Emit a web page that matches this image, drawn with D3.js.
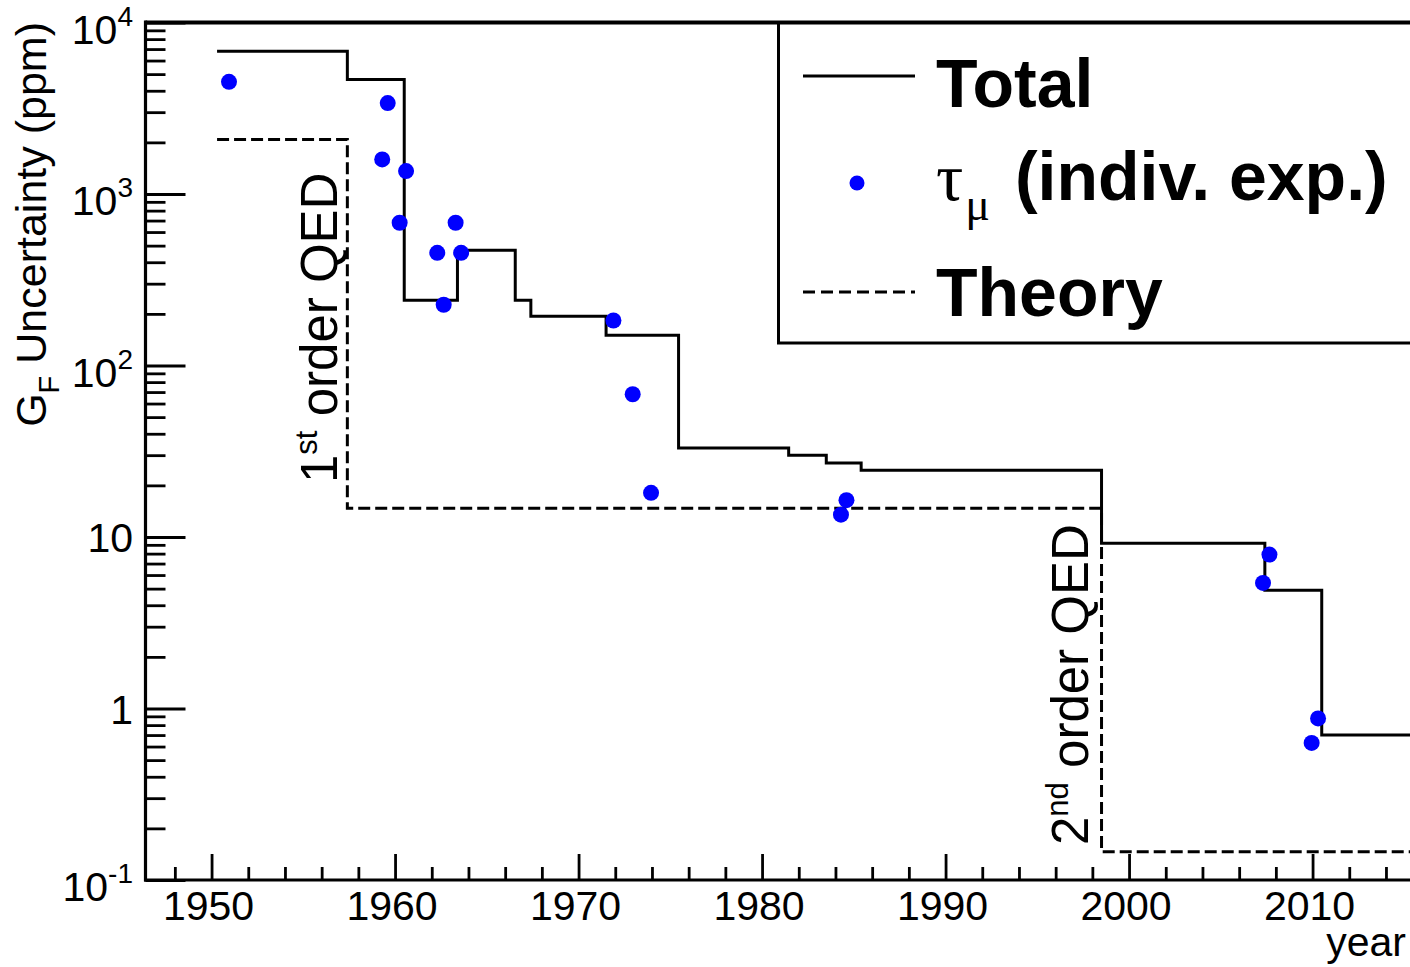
<!DOCTYPE html>
<html>
<head>
<meta charset="utf-8">
<script src="https://cdn.jsdelivr.net/npm/d3@7"></script>
<style>
  html, body { margin: 0; padding: 0; background: #fff; }
  svg { display: block; }
  text { font-family: "Liberation Sans", Arial, Helvetica, sans-serif; fill: #000; }
</style>
</head>
<body>
<svg id="chart" width="1410" height="967"></svg>
<script>
// ---------------- data ----------------
// "Total" step curve: bin edges (years) and uncertainty (ppm) in each bin
const totalEdges  = [1950.3, 1957.4, 1960.5, 1963.4, 1966.55, 1967.4, 1971.5, 1975.45, 1981.45, 1983.5, 1985.4, 1998.5, 2007.4, 2010.5, 2020];
const totalValues = [6800,   4650,   240,    470,    240,     194,    150,    33,      30,      27,     24.5,   9.2,    4.9,    0.70];

// "Theory" step curve
const theoryEdges  = [1950.3, 1957.4, 1998.5, 2020];
const theoryValues = [2080,   14.7,   0.146];

// tau_mu individual experiments
const tauYears  = [1950.95, 1959.6, 1959.3, 1960.6, 1960.25, 1963.3, 1962.3, 1963.6, 1962.65, 1971.9, 1972.95, 1973.95, 1984.6, 1984.3, 2007.65, 2007.3, 2010.3, 2009.95];
const tauValues = [4510,    3390,   1590,   1360,   680,     680,    454,    454,    226,     183,    68,      18.1,    16.4,   13.5,   7.9,     5.4,    0.875,  0.63];

// axis ticks and labels
const xMajorTicks = [1950, 1960, 1970, 1980, 1990, 2000, 2010];
const xMinorTicks = [1948, 1952, 1954, 1956, 1958, 1962, 1964, 1966, 1968, 1972, 1974, 1976, 1978, 1982, 1984, 1986, 1988, 1992, 1994, 1996, 1998, 2002, 2004, 2006, 2008, 2012, 2014, 2016];
const yMajorTicks = [0.1, 1, 10, 100, 1000, 10000];
const yTickBase   = ["10", "1", "10", "10", "10", "10"];
const yTickExp    = ["-1", "",  "",   "2",  "3",  "4"];

// ---------------- chart ----------------
const svg = d3.select("#chart");
const pL = 145.5, pR = 1430, pT = 22.5, pB = 880;

const x = d3.scaleLinear().domain([1946.4, 2016.4]).range([pL, pR]);
const y = d3.scaleLog().domain([0.1, 10000]).range([pB, pT]);

const yMinorTicks = [];
for (let e = -1; e < 4; e++) for (let m = 2; m <= 9; m++) yMinorTicks.push(m * Math.pow(10, e));

svg.append("defs").append("clipPath").attr("id", "plotclip")
  .append("rect").attr("x", pL).attr("y", pT).attr("width", pR - pL).attr("height", pB - pT);

function styleAxis(g, w) {
  g.selectAll("path.domain").remove();
  g.selectAll("line").attr("stroke", "#000").attr("stroke-width", w);
  g.selectAll("text").remove();
}
svg.append("g").attr("transform", `translate(0,${pB})`)
  .call(d3.axisBottom(x).tickValues(xMinorTicks).tickSizeInner(-13).tickSizeOuter(0))
  .call(g => styleAxis(g, 2.8));
svg.append("g").attr("transform", `translate(0,${pB})`)
  .call(d3.axisBottom(x).tickValues(xMajorTicks).tickSizeInner(-26).tickSizeOuter(0))
  .call(g => styleAxis(g, 2.8));
svg.append("g").attr("transform", `translate(${pL},0)`)
  .call(d3.axisLeft(y).tickValues(yMinorTicks).tickSizeInner(-20).tickSizeOuter(0))
  .call(g => styleAxis(g, 2.8));
svg.append("g").attr("transform", `translate(${pL},0)`)
  .call(d3.axisLeft(y).tickValues(yMajorTicks).tickSizeInner(-40).tickSizeOuter(0))
  .call(g => styleAxis(g, 2.8));

svg.append("line").attr("x1", pL).attr("x2", pL).attr("y1", pT - 2).attr("y2", pB + 1.5)
  .attr("stroke", "#000").attr("stroke-width", 3.2);
svg.append("line").attr("x1", pL - 1.5).attr("x2", 1410).attr("y1", pB).attr("y2", pB)
  .attr("stroke", "#000").attr("stroke-width", 3.2);

svg.append("g").selectAll("text").data(xMajorTicks).join("text")
  .attr("x", d => x(d) - 3).attr("y", 920)
  .attr("text-anchor", "middle").attr("font-size", 41)
  .text(d => d);

const yl = svg.append("g").selectAll("text").data(yMajorTicks).join("text")
  .attr("x", 133)
  .attr("y", (d, i) => y(d) + (yTickExp[i] ? 21 : 15))
  .attr("text-anchor", "end").attr("font-size", 41);
yl.append("tspan").text((d, i) => yTickBase[i]);
yl.append("tspan").attr("font-size", 28).attr("dy", -18).text((d, i) => yTickExp[i]);

svg.append("text").attr("x", 1406).attr("y", 956).attr("text-anchor", "end")
  .attr("font-size", 41).text("year");

const yt = svg.append("text").attr("transform", "translate(46,22) rotate(-90)")
  .attr("text-anchor", "end").attr("font-size", 43);
yt.append("tspan").text("G");
yt.append("tspan").attr("font-size", 29).attr("dy", 13).text("F");
yt.append("tspan").attr("dy", -13).text(" Uncertainty (ppm)");

const plot = svg.append("g").attr("clip-path", "url(#plotclip)");
const stepLine = d3.line().x(d => x(d[0])).y(d => y(d[1])).curve(d3.curveStepAfter);

function stepPts(edges, vals) {
  const p = vals.map((v, i) => [edges[i], v]);
  p.push([edges[edges.length - 1], vals[vals.length - 1]]);
  return p;
}

plot.append("path").attr("d", stepLine(stepPts(theoryEdges, theoryValues)))
  .attr("fill", "none").attr("stroke", "#000").attr("stroke-width", 3)
  .attr("stroke-dasharray", "12,5");
plot.append("path").attr("d", stepLine(stepPts(totalEdges, totalValues)))
  .attr("fill", "none").attr("stroke", "#000").attr("stroke-width", 3);

plot.append("g").selectAll("circle").data(tauYears).join("circle")
  .attr("cx", d => x(d)).attr("cy", (d, i) => y(tauValues[i]))
  .attr("r", 8).attr("fill", "#0000ff");

const a1 = svg.append("text").attr("transform", "translate(337,483) rotate(-90)")
  .attr("font-size", 51);
a1.append("tspan").text("1");
a1.append("tspan").attr("font-size", 31).attr("dy", -20).text("st");
a1.append("tspan").attr("dy", 20).text(" order QED");

const a2 = svg.append("text").attr("transform", "translate(1088,845) rotate(-90)")
  .attr("font-size", 51);
a2.append("tspan").text("2");
a2.append("tspan").attr("font-size", 31).attr("dy", -20).text("nd");
a2.append("tspan").attr("dy", 20).text(" order QED");

const lg = svg.append("g");
lg.append("rect").attr("x", 778.5).attr("y", pT).attr("width", 800).attr("height", 343 - pT)
  .attr("fill", "#fff").attr("stroke", "#000").attr("stroke-width", 3);
svg.append("line").attr("x1", pL).attr("x2", 1410).attr("y1", pT).attr("y2", pT)
  .attr("stroke", "#000").attr("stroke-width", 4);

lg.append("line").attr("x1", 803).attr("x2", 915).attr("y1", 76).attr("y2", 76)
  .attr("stroke", "#000").attr("stroke-width", 3);
lg.append("circle").attr("cx", 857).attr("cy", 183).attr("r", 7.5).attr("fill", "#0000ff");
lg.append("line").attr("x1", 803).attr("x2", 915).attr("y1", 292).attr("y2", 292)
  .attr("stroke", "#000").attr("stroke-width", 3).attr("stroke-dasharray", "12,6");

lg.append("text").attr("x", 936).attr("y", 107).attr("font-size", 68).attr("font-weight", "bold").text("Total");
const lt = lg.append("text").attr("x", 936).attr("y", 200).attr("font-size", 68).attr("font-weight", "bold");
lt.append("tspan").attr("font-family", "'Liberation Serif', 'DejaVu Serif', serif").attr("font-weight", "normal").text("τ");
lt.append("tspan").attr("font-family", "'Liberation Serif', 'DejaVu Serif', serif").attr("font-weight", "normal")
  .attr("font-size", 46).attr("dx", 2).attr("dy", 20).text("μ");
lt.append("tspan").attr("dx", 6).attr("dy", -20).text(" (indiv. exp.)");
lg.append("text").attr("x", 936).attr("y", 316).attr("font-size", 68).attr("font-weight", "bold").text("Theory");
</script>
</body>
</html>
